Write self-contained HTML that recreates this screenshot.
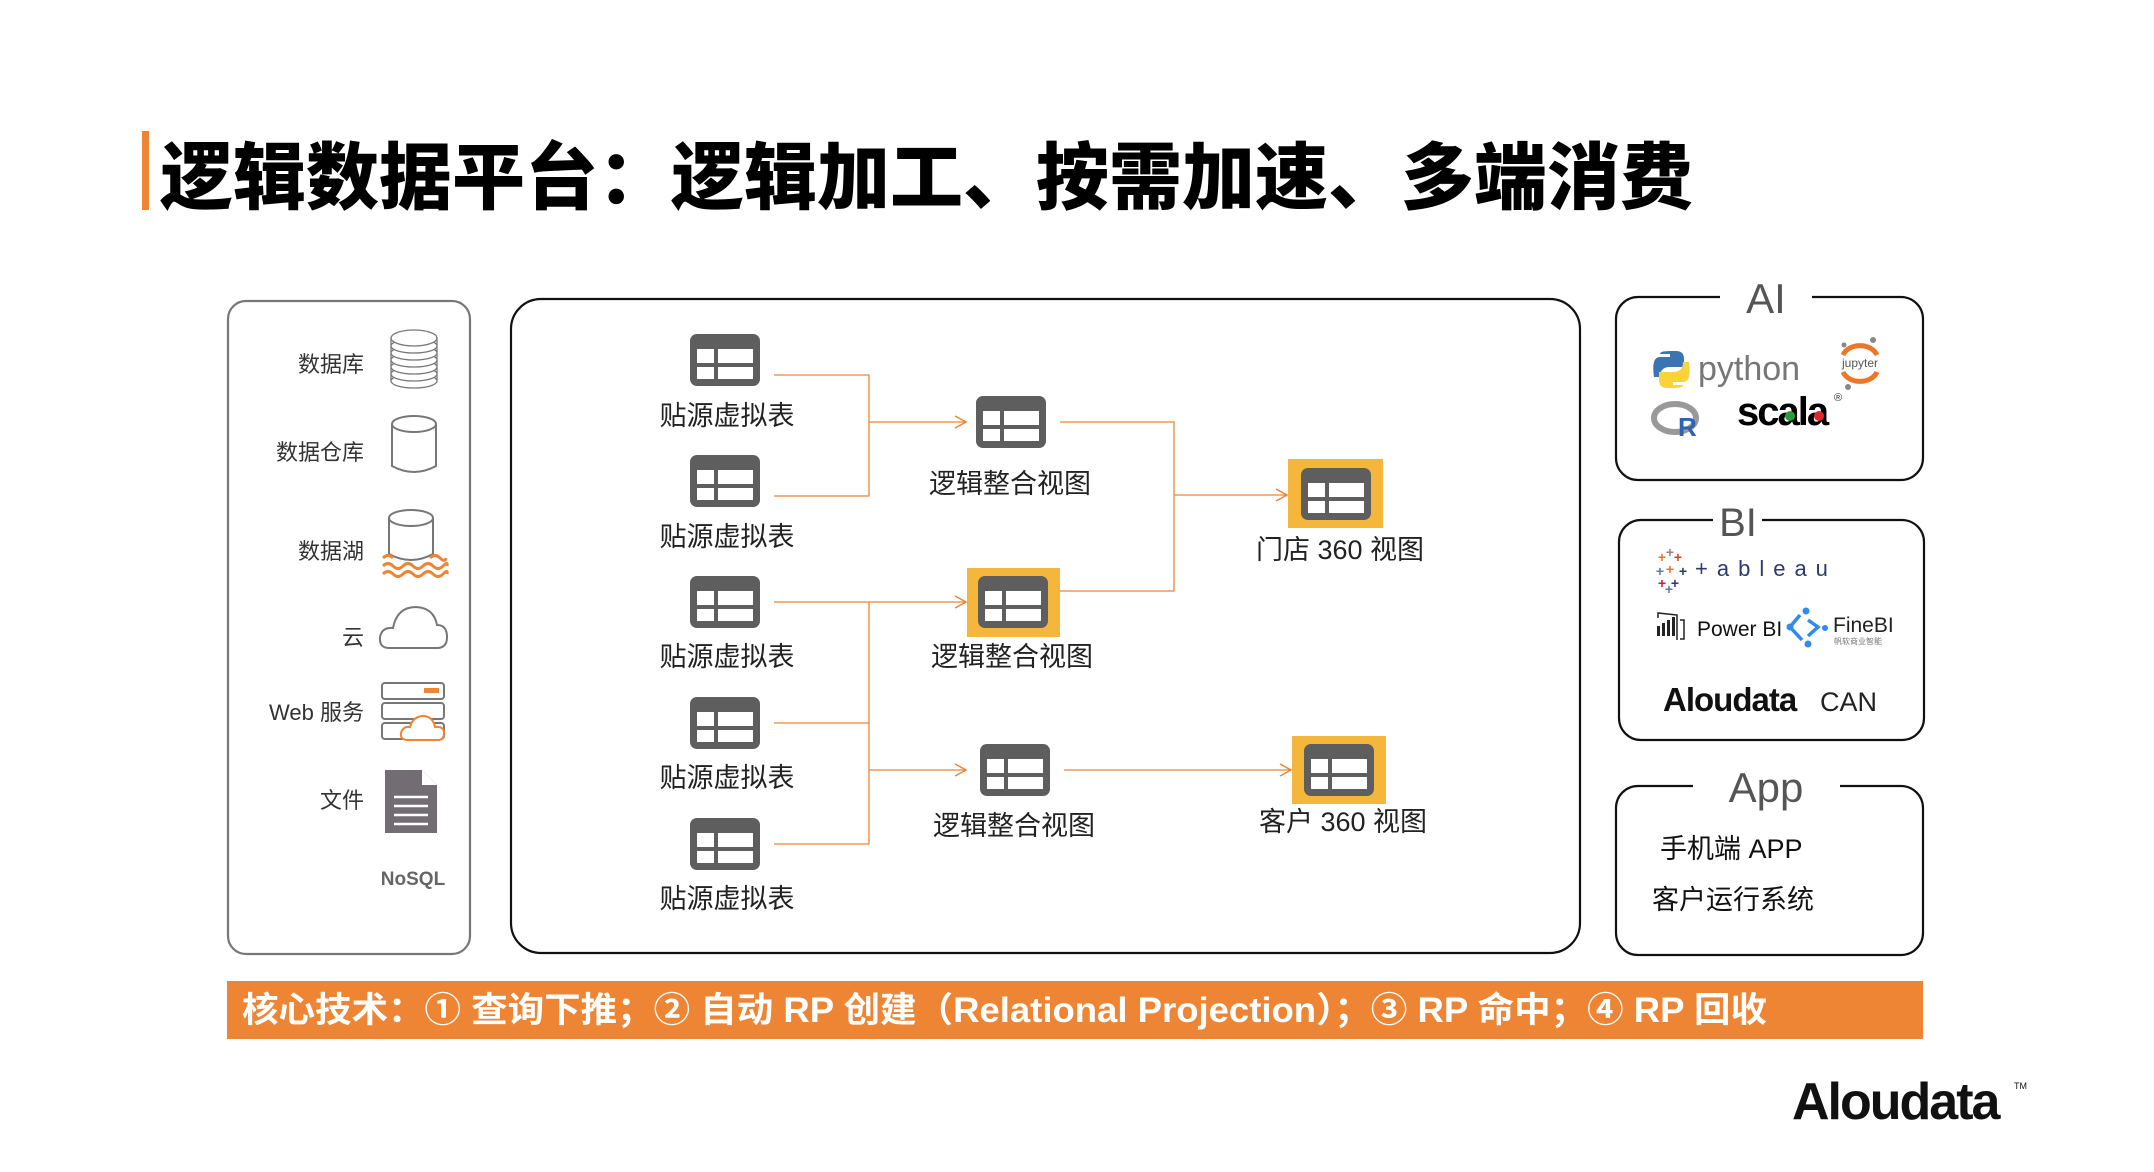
<!DOCTYPE html>
<html><head><meta charset="utf-8">
<style>
html,body{margin:0;padding:0;background:#fff;}
body{width:2154px;height:1172px;position:relative;overflow:hidden;font-family:"Liberation Sans","Noto Sans CJK SC",sans-serif;}
.t{position:absolute;white-space:nowrap;}
svg text{font-family:"Liberation Sans","Noto Sans CJK SC",sans-serif;}
</style></head><body>
<div class="t" style="left:142px;top:131px;width:7px;height:79px;background:#ED8534"></div>
<div class="t" style="left:160px;top:128px;font-size:73px;line-height:88px;font-weight:900;color:#000;font-family:'Noto Sans CJK SC',sans-serif;">逻辑数据平台：逻辑加工、按需加速、多端消费</div>

<svg width="2154" height="1172" style="position:absolute;left:0;top:0">
<defs>
<g id="tbl">
<rect x="0" y="0" width="70" height="52" rx="7" fill="#5e5e5e"/>
<rect x="7" y="15" width="17" height="14" fill="#fff"/>
<rect x="28" y="15" width="35" height="14" fill="#fff"/>
<rect x="7" y="33" width="17" height="12" fill="#fff"/>
<rect x="28" y="33" width="35" height="12" fill="#fff"/>
</g>
<marker id="ar" markerWidth="14" markerHeight="14" refX="12" refY="7" orient="auto" markerUnits="userSpaceOnUse">
<path d="M1,1 L12,7 L1,13" fill="none" stroke="#ED8534" stroke-width="1.5"/>
</marker>
</defs>

<!-- boxes -->
<rect x="228" y="301" width="242" height="653" rx="18" fill="none" stroke="#777" stroke-width="2.2"/>
<rect x="511" y="299" width="1069" height="654" rx="30" fill="none" stroke="#111" stroke-width="2.2"/>
<rect x="1616" y="297" width="307" height="183" rx="22" fill="none" stroke="#111" stroke-width="2.2"/>
<rect x="1619" y="520" width="305" height="220" rx="22" fill="none" stroke="#111" stroke-width="2.2"/>
<rect x="1616" y="786" width="307" height="169" rx="22" fill="none" stroke="#111" stroke-width="2.2"/>
<rect x="1720" y="280" width="92" height="36" fill="#fff"/>
<rect x="1713" y="503" width="49" height="36" fill="#fff"/>
<rect x="1693" y="768" width="147" height="36" fill="#fff"/>
<text x="1766" y="313" font-size="42" fill="#555" text-anchor="middle">AI</text>
<text x="1738" y="536" font-size="40" fill="#555" text-anchor="middle">BI</text>
<text x="1766" y="802" font-size="42" fill="#555" text-anchor="middle">App</text>

<!-- left panel -->
<g font-size="22" fill="#333" text-anchor="end">
<text x="364" y="372">数据库</text>
<text x="364" y="460">数据仓库</text>
<text x="364" y="559">数据湖</text>
<text x="364" y="645">云</text>
<text x="364" y="720">Web 服务</text>
<text x="364" y="808">文件</text>
</g>
<text x="413" y="885" font-size="19" font-weight="bold" fill="#666" text-anchor="middle">NoSQL</text>
<!-- db stack -->
<g fill="#fff" stroke="#777" stroke-width="1.3">
<rect x="391" y="338" width="46" height="43"/>
<ellipse cx="414" cy="381" rx="23" ry="7"/>
<ellipse cx="414" cy="374" rx="23" ry="7"/>
<ellipse cx="414" cy="367" rx="23" ry="7"/>
<ellipse cx="414" cy="360" rx="23" ry="7"/>
<ellipse cx="414" cy="353" rx="23" ry="7"/>
<ellipse cx="414" cy="346" rx="23" ry="7"/>
<ellipse cx="414" cy="338" rx="23" ry="8"/>
</g>
<!-- warehouse -->
<g fill="#fff" stroke="#777" stroke-width="2">
<path d="M392,424 V466 Q414,478 436,466 V424"/>
<ellipse cx="414" cy="424" rx="22" ry="8"/>
<path d="M389,518 V554 Q411,566 433,554 V518"/>
<ellipse cx="411" cy="518" rx="22" ry="8"/>
</g>
<g fill="none" stroke="#ED8534" stroke-width="3">
<path d="M383,558 q5,-5 10,0 M430,558 q5,-5 10,0 t6,0"/>
<path d="M383,566 q5,-5 10,0 t10,0 t10,0 t10,0 t10,0 t10,0 t4,0"/>
<path d="M383,574 q5,-5 10,0 t10,0 t10,0 t10,0 t10,0 t10,0 t4,0"/>
</g>
<!-- cloud -->
<path d="M389,648 Q379,648 380,637 Q382,627 393,628 Q397,607 416,607 Q434,608 437,625 Q447,625 447,637 Q447,648 437,648 Z" fill="#fff" stroke="#777" stroke-width="2"/>
<!-- web -->
<g fill="#fff" stroke="#777" stroke-width="2">
<rect x="382" y="683" width="62" height="16" rx="3"/>
<rect x="382" y="703" width="62" height="16" rx="3"/>
<rect x="382" y="723" width="62" height="16" rx="3"/>
</g>
<rect x="424" y="688" width="15" height="5" fill="#ED8534"/>
<path d="M408,740 Q400,740 401,733 Q403,726 410,727 Q413,716 424,716 Q433,717 435,727 Q444,726 444,733 Q444,740 438,740 Z" fill="#fff" stroke="#ED8534" stroke-width="2"/>
<!-- file -->
<path d="M385,770 H422 L437,785 V833 H385 Z" fill="#716d72"/>
<path d="M422,770 V785 H437" fill="#fff"/>
<g stroke="#fff" stroke-width="2.5"><line x1="394" y1="797" x2="428" y2="797"/><line x1="394" y1="806" x2="428" y2="806"/><line x1="394" y1="815" x2="428" y2="815"/><line x1="394" y1="824" x2="428" y2="824"/></g>

<!-- connectors -->
<g fill="none" stroke="#ED8534" stroke-width="1.3">
<path d="M774,375 H869 V496 H774"/>
<path d="M869,422 H966" marker-end="url(#ar)"/>
<path d="M1060,422 H1174 V591 H1060"/>
<path d="M1174,495 H1287" marker-end="url(#ar)"/>
<path d="M774,602 H966" marker-end="url(#ar)"/>
<path d="M774,723 H869 M774,844 H869 M869,602 V844"/>
<path d="M869,770 H966" marker-end="url(#ar)"/>
<path d="M1064,770 H1291" marker-end="url(#ar)"/>
</g>

<!-- highlights -->
<rect x="967" y="568" width="93" height="69" fill="#F5B73B"/>
<rect x="1288" y="459" width="95" height="69" fill="#F5B73B"/>
<rect x="1292" y="736" width="94" height="68" fill="#F5B73B"/>

<!-- tables -->
<use href="#tbl" x="690" y="334"/>
<use href="#tbl" x="690" y="455"/>
<use href="#tbl" x="690" y="576"/>
<use href="#tbl" x="690" y="697"/>
<use href="#tbl" x="690" y="818"/>
<use href="#tbl" x="976" y="396"/>
<use href="#tbl" x="978" y="576"/>
<use href="#tbl" x="980" y="744"/>
<use href="#tbl" x="1301" y="468"/>
<use href="#tbl" x="1304" y="744"/>

<g font-size="27" fill="#222" text-anchor="middle">
<text x="727" y="425">贴源虚拟表</text>
<text x="727" y="546">贴源虚拟表</text>
<text x="727" y="666">贴源虚拟表</text>
<text x="727" y="787">贴源虚拟表</text>
<text x="727" y="908">贴源虚拟表</text>
<text x="1010" y="493">逻辑整合视图</text>
<text x="1012" y="666">逻辑整合视图</text>
<text x="1014" y="835">逻辑整合视图</text>
<text x="1340" y="559">门店 360 视图</text>
<text x="1343" y="831">客户 360 视图</text>
</g>

<!-- AI contents -->
<path d="M1670,351 h6 q8,0 8,8 v8 h-14 q-10,0 -10,10 h-6 q-3,-20 6,-20 h10 v-3 h-10 q0,-3 10,-3z" fill="#3a74b3"/>
<path d="M1673,388 h-6 q-8,0 -8,-8 v-8 h14 q10,0 10,-10 h6 q3,20 -6,20 h-10 v3 h10 q0,3 -10,3z" fill="#f8d33c"/>
<text x="1698" y="380" font-size="34" fill="#777">python</text>
<path d="M1843,355 A18,14 0 0 1 1877,355" fill="none" stroke="#ED7628" stroke-width="5"/>
<path d="M1843,372 A18,14 0 0 0 1877,372" fill="none" stroke="#ED7628" stroke-width="5"/>
<text x="1860" y="367" font-size="12" fill="#555" text-anchor="middle">jupyter</text>
<circle cx="1844" cy="345" r="2.5" fill="#888"/><circle cx="1873" cy="340" r="3" fill="#888"/><circle cx="1848" cy="387" r="3" fill="#888"/>
<ellipse cx="1675" cy="418" rx="21" ry="14" fill="none" stroke="#999" stroke-width="6"/>
<text x="1678" y="436" font-size="26" font-weight="bold" fill="#2d63b3">R</text>
<text x="1737" y="425" font-size="40" font-weight="bold" fill="#000" letter-spacing="-2">scala</text>
<circle cx="1790" cy="416" r="5" fill="#2a9a3a"/><circle cx="1819" cy="416" r="5" fill="#e02a2a"/>
<text x="1834" y="401" font-size="11" fill="#333">®</text>

<!-- BI contents -->
<g font-size="14" font-weight="bold" text-anchor="middle">
<text x="1662" y="562" fill="#e8762b">+</text><text x="1670" y="557" fill="#888">+</text><text x="1678" y="562" fill="#c84a2a">+</text>
<text x="1670" y="574" fill="#e8762b">+</text><text x="1660" y="576" fill="#5b7ab0">+</text><text x="1683" y="576" fill="#2d3a6e">+</text>
<text x="1662" y="588" fill="#c8203e">+</text><text x="1675" y="588" fill="#2d3a6e">+</text><text x="1669" y="594" fill="#5b7ab0">+</text>
</g>
<text x="1695" y="576" font-size="22" fill="#2d3a6e" letter-spacing="9">+ableau</text>
<g fill="#222"><rect x="1657" y="626" width="3" height="10"/><rect x="1662" y="623" width="3" height="13"/><rect x="1667" y="620" width="3" height="16"/><rect x="1672" y="617" width="3" height="19"/></g>
<path d="M1658,618 L1658,613 L1677,615 V640 M1680,620 h4 v19 h-4" fill="none" stroke="#222" stroke-width="1.5"/>
<text x="1697" y="636" font-size="21" fill="#111">Power BI</text>
<g fill="none" stroke="#2f8ce8" stroke-width="3.5"><path d="M1800,615 L1790,627 L1802,640 M1808,620 L1818,627 L1808,636"/></g>
<g fill="#2f8ce8"><circle cx="1806" cy="611" r="3.5"/><circle cx="1790" cy="627" r="3.5"/><circle cx="1808" cy="644" r="3.5"/><circle cx="1825" cy="628" r="3"/></g>
<text x="1833" y="632" font-size="21" fill="#222">FineBI</text>
<text x="1834" y="644" font-size="8" fill="#777">帆软商业智能</text>
<text x="1663" y="711" font-size="33" font-weight="bold" fill="#111" letter-spacing="-1">Aloudata</text>
<text x="1820" y="711" font-size="27" fill="#222">CAN</text>

<!-- App contents -->
<text x="1660" y="858" font-size="27" fill="#111">手机端 APP</text>
<text x="1652" y="909" font-size="27" fill="#111">客户运行系统</text>

<!-- bottom bar -->
<rect x="227" y="981" width="1696" height="58" fill="#ED8534"/>
<text x="242" y="1022" font-size="35" font-weight="bold" fill="#fff" textLength="1525" lengthAdjust="spacingAndGlyphs">核心技术：① 查询下推；② 自动 RP 创建（Relational Projection）；③ RP 命中；④ RP 回收</text>

<!-- logo -->
<text x="1792" y="1119" font-size="52" font-weight="bold" fill="#111" letter-spacing="-2">Aloudata</text>
<text x="2014" y="1089" font-size="9" fill="#111">TM</text>
</svg>
</body></html>
